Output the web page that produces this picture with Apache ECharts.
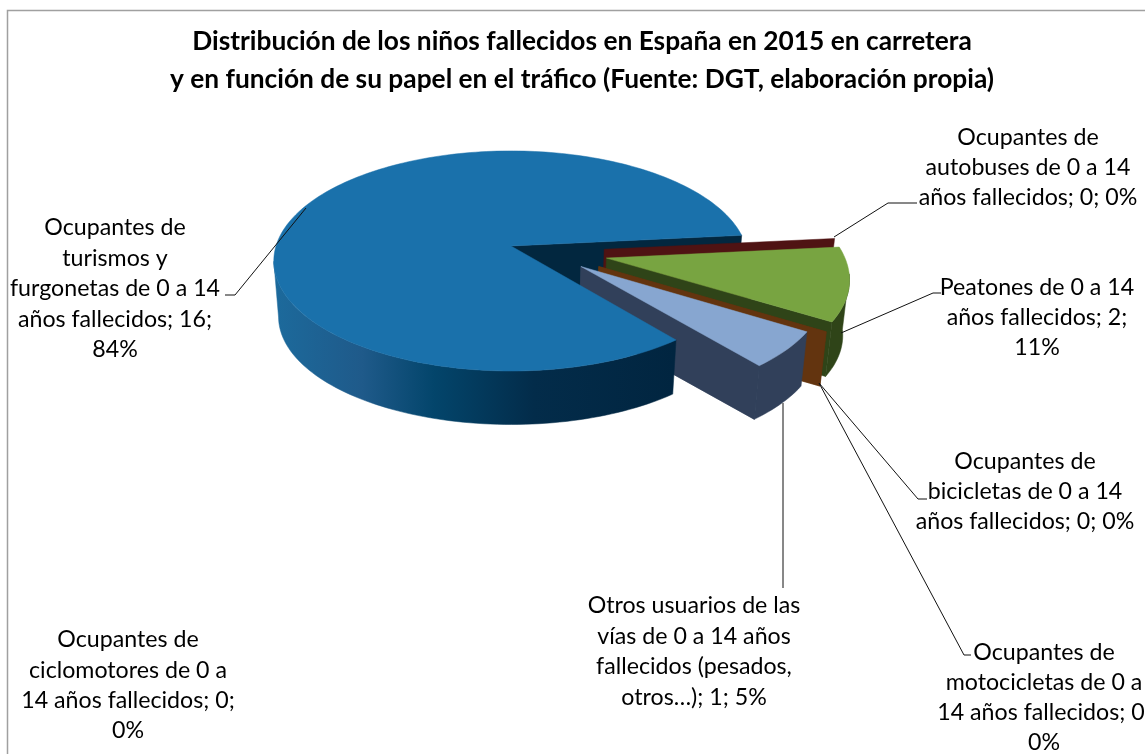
<!DOCTYPE html>
<html><head><meta charset="utf-8">
<style>html,body{margin:0;padding:0;background:#fff;overflow:hidden}#c{width:1145px;height:754px}</style>
<script src="https://cdn.jsdelivr.net/npm/echarts@6/dist/echarts.min.js"></script>
</head><body><div id="c"></div>
<script>
var titleText = 'Distribución de los niños fallecidos en España en 2015 en carretera\ny en función de su papel en el tráfico (Fuente: DGT, elaboración propia)';
var categories = ['Turismos y furgonetas','Autobuses','Peatones','Bicicletas','Motocicletas','Otros usuarios','Ciclomotores'];
var values = [16,0,2,0,0,1,0];
var labelTexts = [
 ['Ocupantes de','turismos y','furgonetas de 0 a 14','años fallecidos; 16;','84%'],
 ['Ocupantes de','autobuses de 0 a 14','años fallecidos; 0; 0%'],
 ['Peatones de 0 a 14','años fallecidos; 2;','11%'],
 ['Ocupantes de','bicicletas de 0 a 14','años fallecidos; 0; 0%'],
 ['Ocupantes de','motocicletas de 0 a','14 años fallecidos; 0;','0%'],
 ['Otros usuarios de las','vías de 0 a 14 años','fallecidos (pesados,','otros…); 1; 5%'],
 ['Ocupantes de','ciclomotores de 0 a','14 años fallecidos; 0;','0%']
];
// --- styling / layout (not data) ---
var topColors  = ['#1a71ab','#4f1313','#78a441','#63340f','#63340f','#87a6d0','#87a6d0'];
var faceColors = ['#02273f','#4f1313','#2f4418','#63340f','#63340f','#31405a','#31405a'];
var wallColors = ['#1a5a88','#4f1313','#2f4418','#63340f','#63340f','#31405a','#31405a'];
var explode = [[0,0],[.395,.03],[.4,.11],[.364,.185],[.364,.185],[.29,.185],[.29,.185]];
var view = {cx:511, cy:246, a:235, b:108, p:.136, drop:56, shrink:.98};
var startDeg = 51.1;
var drawList = [{i:0,body:false},{i:1,body:true},{i:2,body:true},{i:3,body:true},{i:4,body:true},{i:6,body:true},{i:5,body:true},{i:0,body:true,noFace:true}];
var labelPos = [
 {x:115,y:228,lh:30.5},{x:1028,y:138,lh:29.7},{x:1037,y:288,lh:30},{x:1025,y:462,lh:30},
 {x:1044,y:653,lh:29.7},{x:694,y:606,lh:30.5},{x:128,y:640,lh:30.3}
];
var leaders = [
 [[225,295],[235,295],[306,208]],
 [[834,237],[888,203],[917,203]],
 [[841,333],[933,293],[941,293]],
 [[819,383],[918,499],[927,499]],
 [[819,383],[964,655],[971,655]],
 [[783,403],[783,588]]
];
var FONT = 'Lato, Carlito, Calibri, sans-serif';
var total = values.reduce(function(s,v){return s+v},0);
var spans = []; (function(){var a=startDeg; values.forEach(function(v){var e=a+v/total*360; spans.push([a,e]); a=e;});})();
function proj(X,Y,low){
  var d=1-view.p*Y, x=view.a*X/d, y=view.b*Y/d;
  return low ? [view.cx+view.shrink*x, view.cy+view.drop+view.shrink*y] : [view.cx+x, view.cy+y];
}
function pt(i,deg,r,low){
  var t=deg*Math.PI/180;
  return proj(explode[i][0]+r*Math.cos(t), explode[i][1]+r*Math.sin(t), low);
}
function arc(i,d0,d1,low){
  var out=[], n=Math.max(1,Math.ceil(Math.abs(d1-d0)/1.5));
  for(var k=0;k<=n;k++) out.push(pt(i,d0+(d1-d0)*k/n,1,low));
  return out;
}
var mainWall = new echarts.graphic.LinearGradient(274,0,674,0,[
 {offset:0,color:'#1c6a9c'},{offset:.22,color:'#1f5a8a'},{offset:.4,color:'#03456b'},
 {offset:.65,color:'#032c4a'},{offset:1,color:'#012540'}],true);
function poly(points,fill){return {type:'polygon',shape:{points:points},style:{fill:fill,stroke:fill,lineWidth:.5},silent:true};}
function renderSlice(params){
  var d=drawList[params.dataIndex], i=d.i, s=spans[i], kids=[];
  if(!d.noFace){
    kids.push(poly([pt(i,s[1],0,false),pt(i,s[1],1,false),pt(i,s[1],1,true),pt(i,s[1],0,true)],faceColors[i]));
  }
  if(d.body && values[i]>0){
    var t0=s[0], t1=s[1];
    // rim wall only where it faces the viewer
    var turn=Math.floor((t1-8)/360)*360;
    var w0=Math.max(t0,8+turn), w1=Math.min(t1,172+turn);
    var top=arc(i,w0,w1,false), bot=arc(i,w1,w0,true);
    kids.push(poly(top.concat(bot), i===0?mainWall:wallColors[i]));
    kids.push(poly([pt(i,t0,0,false)].concat(arc(i,t0,t1,false)),topColors[i]));
  }
  return {type:'group',children:kids};
}
var g=[{type:'rect',z:0,shape:{x:7.5,y:10.5,width:1160,height:800},style:{fill:'#fff',stroke:'#a0a0a0',lineWidth:1.5},silent:true}];
leaders.forEach(function(l){g.push({type:'polyline',z:100,shape:{points:l},style:{stroke:'#111',lineWidth:1,fill:null},silent:true});});
labelTexts.forEach(function(lines,i){
  var p=labelPos[i];
  lines.forEach(function(t,k){
    g.push({type:'text',z:101,x:p.x,y:p.y+k*p.lh,style:{text:t,fill:'#000',font:'23.2px '+FONT,textAlign:'center',textVerticalAlign:'middle'},silent:true});
  });
});
var chart=echarts.init(document.getElementById('c'),null,{renderer:'canvas'});
chart.setOption({
  animation:false,backgroundColor:'#fff',
  title:{text:titleText,left:577,top:18,textAlign:'center',textStyle:{fontFamily:FONT,fontWeight:'bold',fontSize:26.3,lineHeight:37.5,color:'#000'}},
  graphic:{elements:g},
  series:[{type:'custom',coordinateSystem:'none',silent:true,z:5,renderItem:renderSlice,
    data:drawList.map(function(d,n){return [n,values[d.i]];})}]
});
</script></body></html>
